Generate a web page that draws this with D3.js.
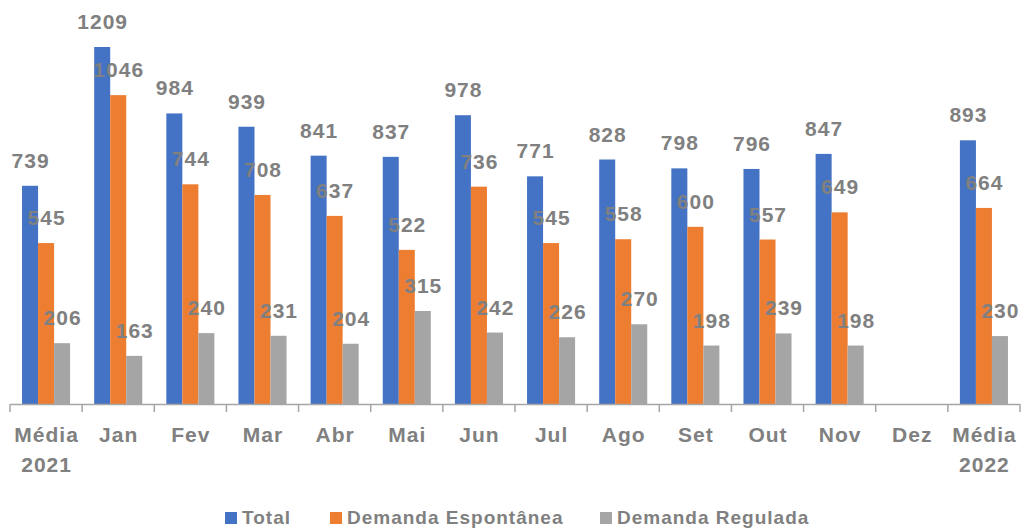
<!DOCTYPE html>
<html>
<head>
<meta charset="utf-8">
<script src="https://cdn.jsdelivr.net/npm/d3@7"></script>
<style>
  html, body { margin: 0; padding: 0; background: #fff; }
  svg { display: block; }
  text { font-family: "Liberation Sans", Arial, sans-serif; font-weight: bold; fill: #808080; letter-spacing: 1px; }
</style>
</head>
<body>
<svg id="chart" width="1021" height="530"></svg>
<script>
const categories = ["Média\n2021", "Jan", "Fev", "Mar", "Abr", "Mai", "Jun", "Jul", "Ago", "Set", "Out", "Nov", "Dez", "Média\n2022"];
const seriesNames = ["Total", "Demanda Espontânea", "Demanda Regulada"];
const total       = [739, 1209, 984, 939, 841, 837, 978, 771, 828, 798, 796, 847, null, 893];
const espontanea  = [545, 1046, 744, 708, 637, 522, 736, 545, 558, 600, 557, 649, null, 664];
const regulada    = [206, 163, 240, 231, 204, 315, 242, 226, 270, 198, 239, 198, null, 230];
const colors = ["#4472C4", "#ED7D31", "#A5A5A5"];

const series = [total, espontanea, regulada];
const svg = d3.select("#chart");

const left = 10, right = 1020, baseline = 404;
const x = d3.scaleBand().domain(categories.map((c, i) => i)).range([left, right]).paddingInner(0).paddingOuter(0);
const x1 = d3.scaleBand().domain(d3.range(3)).range([x.bandwidth() * 0.167, x.bandwidth() * 0.833]).padding(0);
const y = d3.scaleLinear().domain([0, 1209]).range([baseline, 47]);

// bars
series.forEach((vals, s) => {
  const g = svg.append("g");
  categories.forEach((c, i) => {
    const v = vals[i];
    if (v == null) return;
    const bx = x(i) + x1(s);
    g.append("rect")
      .attr("x", bx).attr("y", y(v))
      .attr("width", x1.bandwidth()).attr("height", baseline - y(v))
      .attr("fill", colors[s]);
  });
});

// labels
series.forEach((vals, s) => {
  categories.forEach((c, i) => {
    const v = vals[i];
    if (v == null) return;
    svg.append("text")
      .attr("x", x(i) + x1(s) + x1.bandwidth() / 2 + 0.5)
      .attr("y", y(v) - 18)
      .attr("text-anchor", "middle")
      .attr("font-size", 21)
      .text(v);
  });
});

// axis line and ticks
svg.append("line").attr("x1", left).attr("x2", right).attr("y1", baseline + 0.5).attr("y2", baseline + 0.5)
  .attr("stroke", "#A6A6A6").attr("stroke-width", 1.5);
const tickPos = categories.map((c, i) => x(i)).concat([right]);
tickPos.forEach(t => {
  svg.append("line").attr("x1", t).attr("x2", t).attr("y1", baseline).attr("y2", baseline + 8)
    .attr("stroke", "#A6A6A6").attr("stroke-width", 1.5);
});

// category labels
categories.forEach((c, i) => {
  const lines = c.split("\n");
  const cx = x(i) + x.bandwidth() / 2 + 0.5;
  const t = svg.append("text")
    .attr("x", cx)
    .attr("y", 442)
    .attr("text-anchor", "middle")
    .attr("font-size", 21);
  lines.forEach((ln, k) => {
    t.append("tspan").attr("x", cx).attr("dy", k === 0 ? 0 : 30).text(ln);
  });
});

// legend
const legendX = [225, 330, 600];
seriesNames.forEach((n, s) => {
  svg.append("rect").attr("x", legendX[s]).attr("y", 512).attr("width", 12).attr("height", 12).attr("fill", colors[s]);
  svg.append("text").attr("x", legendX[s] + 17).attr("y", 524).attr("font-size", 19).text(n);
});
</script>
</body>
</html>
